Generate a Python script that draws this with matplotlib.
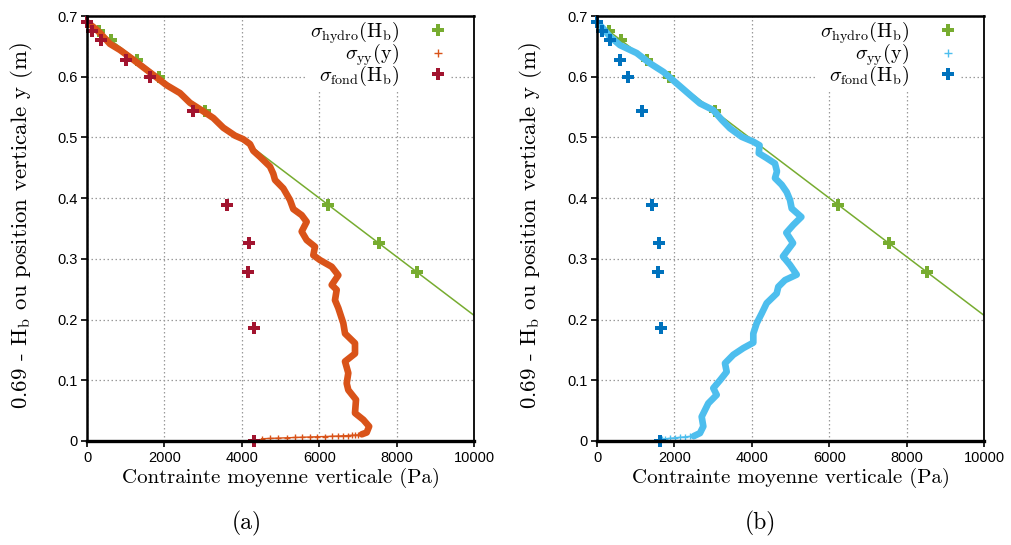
import matplotlib
matplotlib.use("Agg")
import matplotlib.pyplot as plt
from matplotlib import font_manager
from matplotlib.lines import Line2D

# ---------------- data ----------------
# heights 0.69 - H_b of the measurement points (m)
hb_y = [0.69, 0.675, 0.66, 0.628, 0.600, 0.543, 0.389, 0.326, 0.278, 0.186, 0.0]
# hydrostatic stress at those heights (Pa)
hydro_x = [0, 310, 621, 1284, 1863, 3043, 6232, 7536, 8530, 10435, 14286]
# bottom stress, case (a) and case (b)
fond_a_x = [10, 140, 350, 1000, 1640, 2740, 3630, 4190, 4160, 4310, 4310]
fond_b_x = [10, 140, 340, 590, 810, 1170, 1430, 1590, 1570, 1650, 1630]

# sigma_yy(y), case (a): dense part of the profile
yy_a_x = [0, 200, 336, 594, 853, 1197, 1671, 2059, 2403, 2661, 3005, 3264,
          3522, 3824, 4039, 4212, 4297, 4470, 4729, 4815, 4858, 5073, 5245,
          5331, 5547, 5676, 5547, 5676, 5891, 5848, 6021, 6323, 6494, 6323,
          6452, 6408, 6494, 6623, 6667, 6925, 6925, 6667, 6752, 6710, 6752,
          6951, 6925, 7140, 7290, 7227, 7100]
yy_a_y = [0.690, 0.680, 0.672, 0.654, 0.644, 0.628, 0.605, 0.586, 0.573,
          0.557, 0.543, 0.532, 0.516, 0.503, 0.497, 0.489, 0.478, 0.468,
          0.452, 0.440, 0.430, 0.416, 0.397, 0.382, 0.372, 0.361, 0.345,
          0.331, 0.320, 0.306, 0.298, 0.287, 0.273, 0.257, 0.249, 0.232,
          0.219, 0.194, 0.177, 0.161, 0.144, 0.131, 0.112, 0.095, 0.084,
          0.068, 0.046, 0.035, 0.024, 0.014, 0.011]
# sigma_yy(y), case (a): sparse points near the bottom
yy_a_tail_x = [7003, 6925, 6839, 6752, 6623, 6494, 6323, 6150, 5934, 5762,
               5547, 5375, 5160, 4935, 4729, 4514]
yy_a_tail_y = [0.0100, 0.0097, 0.0094, 0.0090, 0.0086, 0.0082, 0.0078,
               0.0074, 0.0070, 0.0066, 0.0062, 0.0058, 0.0053, 0.0048,
               0.0043, 0.0037]

# sigma_yy(y), case (b): dense part of the profile
yy_b_x = [0, 150, 336, 594, 1025, 1370, 1714, 2059, 2403, 2661, 3005, 3222,
          3437, 3739, 4039, 4200, 4180, 4384, 4599, 4650, 4599, 4772, 4902,
          4987, 5031, 5280, 5073, 4892, 5065, 4806, 4987, 5160, 4858, 4685,
          4643, 4384, 4255, 4127, 4039, 4039, 3781, 3522, 3307, 3351, 3178,
          3005, 3093, 2876, 2705, 2747, 2661, 2500]
yy_b_y = [0.690, 0.680, 0.666, 0.652, 0.639, 0.622, 0.608, 0.589, 0.570,
          0.556, 0.545, 0.529, 0.515, 0.501, 0.493, 0.487, 0.474, 0.466,
          0.457, 0.444, 0.433, 0.422, 0.410, 0.397, 0.383, 0.369, 0.356,
          0.343, 0.326, 0.304, 0.290, 0.274, 0.265, 0.254, 0.243, 0.227,
          0.210, 0.194, 0.177, 0.162, 0.153, 0.142, 0.128, 0.114, 0.100,
          0.087, 0.076, 0.062, 0.040, 0.024, 0.013, 0.008]
# sigma_yy(y), case (b): sparse points near the bottom
yy_b_tail_x = [2403, 2274, 2145, 2016, 1886, 1757, 1680]
yy_b_tail_y = [0.0075, 0.0068, 0.0060, 0.0052, 0.0044, 0.0036, 0.0030]

x_ticks = [0, 2000, 4000, 6000, 8000, 10000]
y_ticks = [0, 0.1, 0.2, 0.3, 0.4, 0.5, 0.6, 0.7]
y_tick_labels = ["0", "0.1", "0.2", "0.3", "0.4", "0.5", "0.6", "0.7"]

panel_labels = ["(a)", "(b)"]
x_label = "Contrainte moyenne verticale (Pa)"
y_label = r"0.69 - H$_\mathrm{b}$ ou position verticale y (m)"
leg_hydro = r"$\sigma_\mathrm{hydro}(\mathrm{H_b})$"
leg_yy = r"$\sigma_\mathrm{yy}(\mathrm{y})$"
leg_fond = r"$\sigma_\mathrm{fond}(\mathrm{H_b})$"

GREEN = "#77ac30"
ORANGE = "#d95319"
DARKRED = "#a2142f"
LIGHTBLUE = "#4dbeee"
DARKBLUE = "#0072bd"

# ---------------- fonts ----------------
plt.rcParams["mathtext.fontset"] = "cm"
try:
    font_manager.findfont("Liberation Sans Narrow", fallback_to_default=False)
    tick_family = "Liberation Sans Narrow"
    tick_size = 13
except Exception:
    tick_family = "Liberation Sans"
    tick_size = 10.5
serif_family = "cmr10"

fig = plt.figure(figsize=(10.12, 5.45), dpi=100)

panels = [
    dict(pos=[87 / 1012, 104 / 545, 387 / 1012, 425 / 545],
         yy_x=yy_a_x, yy_y=yy_a_y, tail_x=yy_a_tail_x, tail_y=yy_a_tail_y,
         fond_x=fond_a_x, yy_col=ORANGE, fond_col=DARKRED,
         ylab_x=22 / 1012, lab_x=247 / 1012, name=panel_labels[0]),
    dict(pos=[597 / 1012, 104 / 545, 387 / 1012, 425 / 545],
         yy_x=yy_b_x, yy_y=yy_b_y, tail_x=yy_b_tail_x, tail_y=yy_b_tail_y,
         fond_x=fond_b_x, yy_col=LIGHTBLUE, fond_col=DARKBLUE,
         ylab_x=531 / 1012, lab_x=760 / 1012, name=panel_labels[1]),
]

for p in panels:
    ax = fig.add_axes(p["pos"])
    ax.set_xlim(0, 10000)
    ax.set_ylim(0, 0.7)
    ax.grid(True, color="#9a9a9a", linestyle=(0, (1.2, 2.0)), linewidth=0.9)
    ax.set_axisbelow(True)

    # hydrostatic line + markers
    ax.plot(hydro_x, hb_y, color=GREEN, linewidth=1.1, marker="P",
            markersize=8, markeredgewidth=0, zorder=3)
    # sigma_yy profile
    ax.plot(p["yy_x"], p["yy_y"], color=p["yy_col"], linewidth=4.8,
            solid_joinstyle="round", solid_capstyle="round", zorder=4)
    ax.plot(p["tail_x"], p["tail_y"], color=p["yy_col"], linestyle="-",
            linewidth=1.0, marker="+", markersize=5, markeredgewidth=1.0,
            zorder=4, clip_on=False)
    # bottom stress
    ax.plot(p["fond_x"], hb_y, color=p["fond_col"], linestyle="none",
            marker="P", markersize=8.5, markeredgewidth=0, zorder=5,
            clip_on=False)

    handles = [
        Line2D([], [], color=GREEN, linestyle="none", marker="P",
               markersize=8, markeredgewidth=0),
        Line2D([], [], color=p["yy_col"], linestyle="none", marker="+",
               markersize=6, markeredgewidth=1.0),
        Line2D([], [], color=p["fond_col"], linestyle="none", marker="P",
               markersize=8.5, markeredgewidth=0),
    ]

    ax.set_xticks(x_ticks)
    ax.set_xticklabels([str(v) for v in x_ticks], family=tick_family,
                       fontsize=tick_size)
    ax.set_yticks(y_ticks)
    ax.set_yticklabels(y_tick_labels, family=tick_family, fontsize=tick_size)
    ax.tick_params(direction="out", length=4, width=1.2, pad=3,
                   colors="black")

    for side, w in (("bottom", 2.4), ("left", 1.8), ("top", 1.8),
                    ("right", 1.3)):
        ax.spines[side].set_linewidth(w)
        ax.spines[side].set_zorder(6)

    ax.set_xlabel(x_label, family=serif_family, fontsize=15, labelpad=2)
    fig.text(p["ylab_x"], 1 - 226 / 545, y_label, family=serif_family,
             fontsize=16.5, rotation=90, ha="center", va="center")
    fig.text(p["lab_x"], 1 - 523 / 545, p["name"], family=serif_family,
             fontsize=17, ha="center", va="center")

    leg = ax.legend(handles, [leg_hydro, leg_yy, leg_fond],
                    loc="upper right", bbox_to_anchor=(0.94, 1.0),
                    markerfirst=False, frameon=True, fancybox=False,
                    framealpha=1, edgecolor="none", facecolor="white",
                    fontsize=14.5, handlelength=1.0, handletextpad=1.4,
                    labelspacing=-0.2, borderpad=0.15, borderaxespad=0)
    leg.set_zorder(5.5)

fig.savefig("out.png", dpi=100)
